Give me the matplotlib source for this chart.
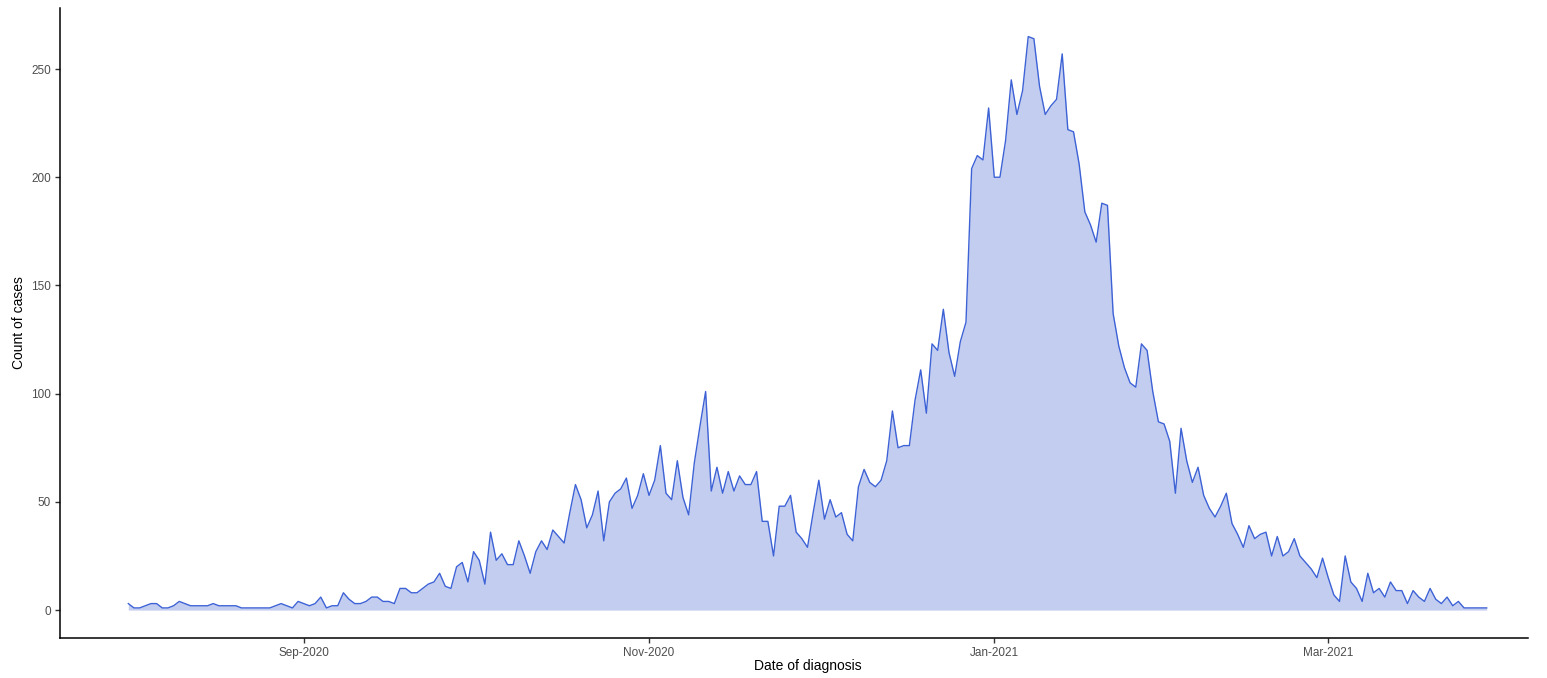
import matplotlib
matplotlib.use("Agg")
import matplotlib.pyplot as plt
import matplotlib.dates as mdates
import numpy as np
import pandas as pd

plt.rcParams["font.family"] = ["Liberation Sans", "DejaVu Sans"]

# daily counts, first day 2020-08-01
start_date = "2020-08-01"
counts = [
    3, 1, 1, 2, 3, 3, 1, 1, 2, 4, 3, 2, 2, 2, 2, 3, 2, 2, 2, 2,
    1, 1, 1, 1, 1, 1, 2, 3, 2, 1, 4, 3, 2, 3, 6, 1, 2, 2, 8, 5,
    3, 3, 4, 6, 6, 4, 4, 3, 10, 10, 8, 8, 10, 12, 13, 17, 11, 10, 20, 22,
    13, 27, 23, 12, 36, 23, 26, 21, 21, 32, 25, 17, 27, 32, 28, 37, 34, 31, 45, 58,
    51, 38, 44, 55, 32, 50, 54, 56, 61, 47, 53, 63, 53, 60, 76, 54, 51, 69, 52, 44,
    68, 85, 101, 55, 66, 54, 64, 55, 62, 58, 58, 64, 41, 41, 25, 48, 48, 53, 36, 33,
    29, 45, 60, 42, 51, 43, 45, 35, 32, 57, 65, 59, 57, 60, 69, 92, 75, 76, 76, 97,
    111, 91, 123, 120, 139, 119, 108, 124, 133, 204, 210, 208, 232, 200, 200, 217, 245, 229, 240, 265,
    264, 242, 229, 233, 236, 257, 222, 221, 206, 184, 178, 170, 188, 187, 137, 122, 112, 105, 103, 123,
    120, 101, 87, 86, 78, 54, 84, 69, 59, 66, 53, 47, 43, 48, 54, 40, 35, 29, 39, 33,
    35, 36, 25, 34, 25, 27, 33, 25, 22, 19, 15, 24, 15, 7, 4, 25, 13, 10, 4, 17,
    8, 10, 6, 13, 9, 9, 3, 9, 6, 4, 10, 5, 3, 6, 2, 4, 1, 1, 1, 1,
    1,
]
y_ticks = [0, 50, 100, 150, 200, 250]
tick_months = [9, 11, 1, 3]

dates = pd.date_range(start_date, periods=len(counts), freq="D")
vals = np.array(counts)

fig = plt.figure(figsize=(15.47, 6.78), dpi=100)
ax = fig.add_axes([60 / 1547, 40 / 678, 1468 / 1547, 630 / 678])

ax.fill_between(dates, 0, vals, color="#c3cdf0", linewidth=0)
ax.plot(dates, vals, color="#3d62d6", linewidth=1.0)

day0 = dates[0]
ax.set_xlim(day0 - pd.Timedelta(days=12.07), day0 + pd.Timedelta(days=247.3))
ax.set_ylim(-12.9, 278.2)

ax.xaxis.set_major_locator(mdates.MonthLocator(bymonth=tick_months))
ax.xaxis.set_major_formatter(mdates.DateFormatter("%b-%Y"))
ax.set_yticks(y_ticks)

for side in ["top", "right"]:
    ax.spines[side].set_visible(False)
for side in ["left", "bottom"]:
    ax.spines[side].set_linewidth(1.1)
    ax.spines[side].set_color("black")

ax.tick_params(axis="both", labelsize=8.5, labelcolor="#4d4d4d", color="#333333",
               length=3.5, width=1.0, pad=3)

ax.set_xlabel("Date of diagnosis", fontsize=10)
ax.set_ylabel("Count of cases", fontsize=10)
# ggplot centres the title over a panel a bit wider than the drawn axis
ax.xaxis.set_label_coords(0.5095, -0.033)
ax.yaxis.set_label_coords(-0.0232, 0.5)

fig.savefig("out.png", dpi=100)
